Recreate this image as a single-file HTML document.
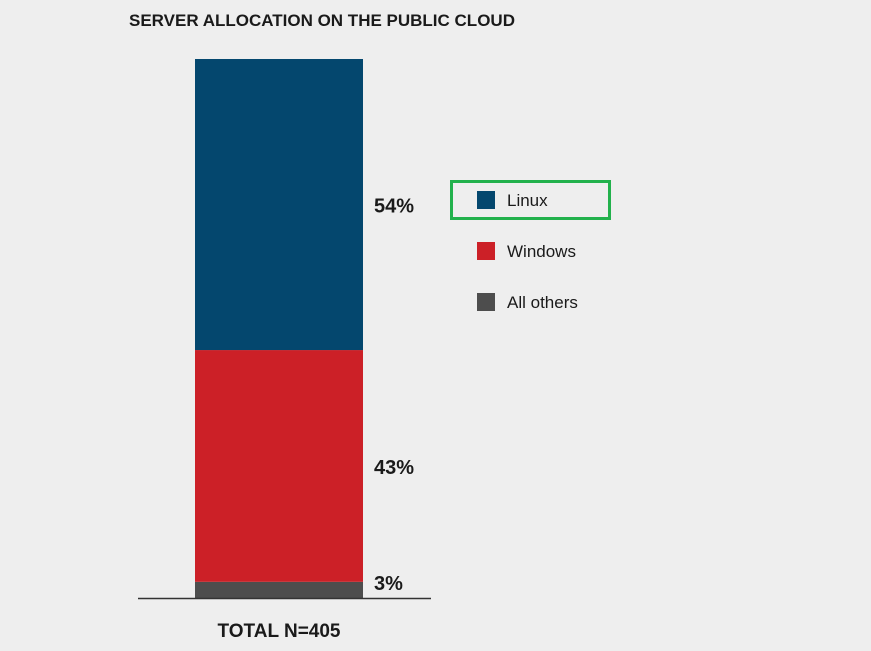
<!DOCTYPE html>
<html><head><meta charset="utf-8"><style>
body{margin:0;width:871px;height:646px;background:#eeeeee;font-family:"Liberation Sans",sans-serif;overflow:hidden}
</style></head><body>
<svg id="chart" width="871" height="646">
<text x="129" y="26" font-size="17" font-weight="bold" fill="#1a1a1a">SERVER ALLOCATION ON THE PUBLIC CLOUD</text>
<g id="bars"></g>
<line x1="138" y1="598.5" x2="431" y2="598.5" stroke="#333" stroke-width="1.5"/>
<text x="279" y="637" text-anchor="middle" font-size="19" font-weight="bold" fill="#1a1a1a">TOTAL N=405</text>
<rect x="451.5" y="181.5" width="158" height="37" fill="none" stroke="#22b14c" stroke-width="3"/>
<g id="legend"></g>
</svg>
<script>
const categories=["Linux","Windows","All others"];
const values=[54,43,3];
const colors=["#04476e","#cc2027","#4d4d4d"];
const svg="http://www.w3.org/2000/svg";
const top0=59,bottom0=598,barX=195,barW=168;
function y(v){return bottom0-(v/100)*(bottom0-top0);}
const g=document.getElementById('bars');
let cum=0;
for(let i=values.length-1;i>=0;i--){
  const y1=y(cum),y2=y(cum+values[i]);cum+=values[i];
  const r=document.createElementNS(svg,'rect');
  r.setAttribute('x',barX);r.setAttribute('y',y2);r.setAttribute('width',barW);r.setAttribute('height',y1-y2);
  r.setAttribute('fill',colors[i]);
  
  
  g.appendChild(r);
  const t=document.createElementNS(svg,'text');
  t.setAttribute('x',374);t.setAttribute('y',Math.min((y1+y2)/2+8,590));
  t.setAttribute('font-size','20');t.setAttribute('font-weight','bold');t.setAttribute('fill','#1a1a1a');
  t.textContent=values[i]+'%';
  
  
  g.appendChild(t);
}
const lg=document.getElementById('legend');
categories.forEach((c,i)=>{
  const yy=191+i*51;
  const r=document.createElementNS(svg,'rect');
  r.setAttribute('x',477);r.setAttribute('y',yy);r.setAttribute('width',18);r.setAttribute('height',18);r.setAttribute('fill',colors[i]);
  
  
  lg.appendChild(r);
  const t=document.createElementNS(svg,'text');
  t.setAttribute('x',507);t.setAttribute('y',yy+15);t.setAttribute('font-size','17');t.setAttribute('fill','#1a1a1a');
  t.textContent=c;
  
  
  lg.appendChild(t);
});
</script>
</body></html>
